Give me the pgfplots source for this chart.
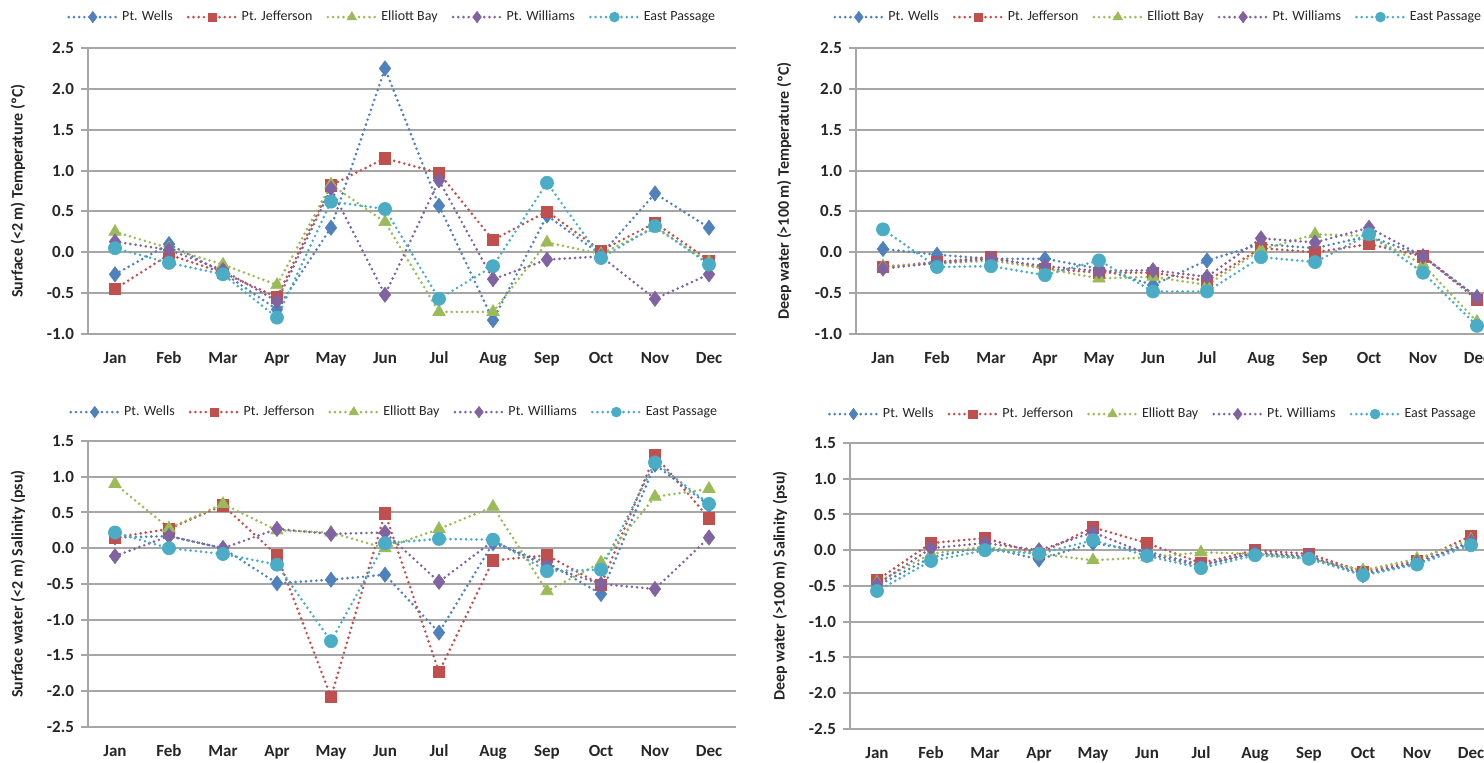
\documentclass[border=0pt]{standalone}
\usepackage{pgfplots}
\pgfplotsset{compat=1.18}
\usepackage{pgfplotstable}
\usepackage{fontspec}
\setmainfont{Carlito}

\definecolor{cW}{HTML}{4F81BD}
\definecolor{cJ}{HTML}{C0504D}
\definecolor{cE}{HTML}{9BBB59}
\definecolor{cP}{HTML}{8064A2}
\definecolor{cC}{HTML}{4BACC6}
\definecolor{gridc}{HTML}{A6A6A6}

\pgfplotstableread{
m W J E P C
0 -0.27 -0.45 0.25 0.13 0.05
1 0.10 -0.03 0.05 0.03 -0.13
2 -0.25 -0.25 -0.15 -0.22 -0.27
3 -0.70 -0.55 -0.40 -0.60 -0.80
4 0.30 0.82 0.83 0.78 0.62
5 2.25 1.15 0.37 -0.52 0.53
6 0.57 0.97 -0.73 0.88 -0.57
7 -0.83 0.15 -0.73 -0.33 -0.17
8 0.45 0.50 0.12 -0.09 0.85
9 -0.03 0.02 -0.02 -0.05 -0.07
10 0.72 0.36 0.30 -0.57 0.32
11 0.30 -0.10 -0.12 -0.27 -0.15
}\tTL

\pgfplotstableread{
m W J E P C
0 0.04 -0.18 -0.17 -0.20 0.28
1 -0.03 -0.12 -0.14 -0.13 -0.18
2 -0.08 -0.06 -0.10 -0.08 -0.17
3 -0.08 -0.20 -0.20 -0.17 -0.28
4 -0.20 -0.25 -0.32 -0.23 -0.10
5 -0.40 -0.25 -0.30 -0.22 -0.48
6 -0.10 -0.35 -0.40 -0.30 -0.48
7 0.10 0.05 0.03 0.17 -0.06
8 0.05 0.00 0.22 0.12 -0.12
9 0.20 0.10 0.20 0.30 0.22
10 -0.05 -0.05 -0.15 -0.05 -0.25
11 -0.55 -0.58 -0.85 -0.55 -0.90
}\tTR

\pgfplotstableread{
m W J E P C
0 0.15 0.15 0.90 -0.11 0.22
1 0.17 0.27 0.28 0.17 0.00
2 0.00 0.60 0.62 0.00 -0.08
3 -0.49 -0.10 0.25 0.27 -0.23
4 -0.44 -2.08 0.22 0.20 -1.30
5 -0.37 0.49 0.00 0.22 0.07
6 -1.18 -1.73 0.27 -0.47 0.13
7 0.07 -0.17 0.58 0.10 0.12
8 -0.20 -0.10 -0.60 -0.25 -0.32
9 -0.64 -0.51 -0.20 -0.50 -0.30
10 1.17 1.30 0.72 -0.57 1.20
11 0.60 0.42 0.83 0.15 0.62
}\tBL

\pgfplotstableread{
m W J E P C
0 -0.50 -0.42 -0.45 -0.48 -0.57
1 -0.10 0.10 -0.05 0.03 -0.15
2 0.05 0.17 0.05 0.10 0.00
3 -0.13 -0.05 -0.05 0.00 -0.05
4 0.10 0.32 -0.14 0.25 0.14
5 -0.02 0.10 -0.10 -0.05 -0.08
6 -0.20 -0.18 -0.03 -0.22 -0.25
7 -0.05 0.00 -0.05 -0.03 -0.07
8 -0.10 -0.05 -0.12 -0.08 -0.12
9 -0.35 -0.30 -0.28 -0.33 -0.35
10 -0.18 -0.15 -0.12 -0.17 -0.20
11 0.10 0.20 0.15 0.12 0.07
}\tBR

\pgfplotsset{
  dotline/.style={line width=1.45pt, dash pattern=on 0pt off 2.6pt, line cap=round},
  sW/.style={dotline, cW, mark=diamond*, mark size=3.8pt, mark options={solid, fill=cW, draw=cW, line width=0.3pt}},
  sJ/.style={dotline, cJ, mark=square*, mark size=2.8pt, mark options={solid, fill=cJ, draw=cJ, line width=0.3pt}},
  sE/.style={dotline, cE, mark=triangle*, mark size=3.6pt, mark options={solid, fill=cE, draw=cE, line width=0.3pt}},
  sP/.style={dotline, cP, mark=diamond*, mark size=3.8pt, mark options={solid, fill=cP, draw=cP, line width=0.3pt}},
  sC/.style={dotline, cC, mark=*, mark size=3.3pt, mark options={solid, fill=cC, draw=cC, line width=0.3pt}},
  panel/.style={
    scale only axis, width=324pt, height=143pt, anchor=south west,
    xmin=-0.5, xmax=11.5,
    xtick={0,...,11},
    xticklabels={Jan,Feb,Mar,Apr,May,Jun,Jul,Aug,Sep,Oct,Nov,Dec},
    axis x line*=bottom, axis y line*=left,
    axis line style={-},
    x axis line style={draw=none},
    y axis line style={draw=gridc, line width=1pt},
    major x tick style={draw=none},
    ytick style={draw=gridc, line width=1pt},
    tick align=outside, major tick length=3.5pt,
    ymajorgrids, grid style={draw=gridc, line width=1pt},
    yticklabel style={/pgf/number format/.cd, fixed, fixed zerofill, precision=1, assume math mode=true},
    ticklabel style={font=\bfseries\fontsize{8.5}{10}\selectfont, text=black!85},
    xticklabel style={yshift=-2pt},
    ylabel style={font=\bfseries\fontsize{8}{9}\selectfont, text=black!85, anchor=center},
    legend style={draw=none, fill=none, font=\fontsize{7}{8}\selectfont, text=black!85,
      legend columns=-1, anchor=center,
      /tikz/every even column/.append style={column sep=5pt}},
    legend image code/.code={\draw[#1,mark repeat=2,mark phase=2,/tikz/every mark/.append style={scale=0.75}] plot coordinates {(0pt,0pt) (12pt,0pt) (24pt,0pt)};},
  },
  tpanel/.style={panel, ymin=-1, ymax=2.5, ytick={-1,-0.5,0,0.5,1,1.5,2,2.5}},
  spanel/.style={panel, ymin=-2.5, ymax=1.5, ytick={-2.5,-2,-1.5,-1,-0.5,0,0.5,1,1.5}},
}

\newcommand{\fiveplots}[1]{%
  \addplot[sW] table[x=m,y=W]{#1};
  \addplot[sJ] table[x=m,y=J]{#1};
  \addplot[sE] table[x=m,y=E]{#1};
  \addplot[sP] table[x=m,y=P]{#1};
  \addplot[sC] table[x=m,y=C]{#1};
  \legend{Pt. Wells,Pt. Jefferson,Elliott Bay,Pt. Williams,East Passage}%
}

\begin{document}
\begin{tikzpicture}
\path[use as bounding box, clip] (0,0) rectangle (742pt,381.5pt);

\begin{axis}[tpanel, at={(44pt,214.5pt)},
  ylabel={Surface (<2 m) Temperature (ºC)},
  ylabel style={at={(axis description cs:-0.108,0.5)}},
  legend style={at={(0.471,1.108)}}]
\fiveplots{\tTL}
\end{axis}

\begin{axis}[tpanel, at={(428pt,214.5pt)},
  ylabel={Deep water (>100 m) Temperature (ºC)},
  ylabel style={at={(axis description cs:-0.111,0.5)}},
  legend style={at={(0.468,1.108)}}]
\fiveplots{\tTR}
\end{axis}

\begin{axis}[spanel, at={(44pt,18pt)},
  ylabel={Surface water (<2 m) Salinity (psu)},
  ylabel style={at={(axis description cs:-0.108,0.5)}},
  legend style={at={(0.474,1.101)}}]
\fiveplots{\tBL}
\end{axis}

\begin{axis}[spanel, at={(425pt,17pt)},
  ylabel={Deep water (>100 m) Salinity (psu)},
  ylabel style={at={(axis description cs:-0.108,0.5)}},
  legend style={at={(0.469,1.101)}}]
\fiveplots{\tBR}
\end{axis}
\end{tikzpicture}
\end{document}
